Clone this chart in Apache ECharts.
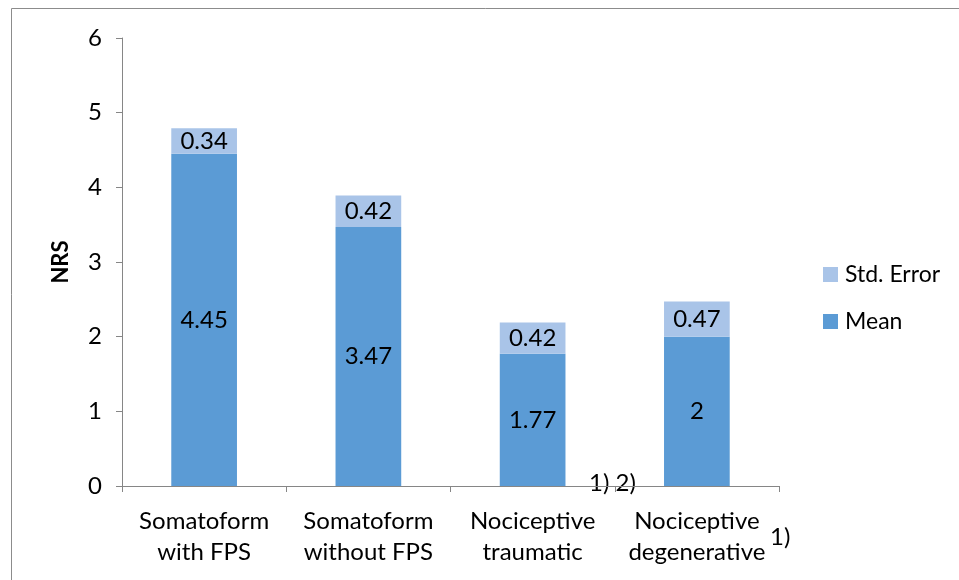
<!DOCTYPE html>
<html>
<head>
<meta charset="utf-8">
<script src="https://cdn.jsdelivr.net/npm/echarts@6/dist/echarts.min.js"></script>
<style>
  html, body { margin: 0; padding: 0; background: #fff; }
  #chart { width: 959px; height: 580px; }
</style>
</head>
<body>
<div id="chart"></div>
<script>
// Pain intensity (NRS) by patient group
const categories = ['Somatoform\nwith FPS', 'Somatoform\nwithout FPS', 'Nociceptive\ntraumatic', 'Nociceptive\ndegenerative'];
const meanValues = [4.45, 3.47, 1.77, 2];
const stdErrorValues = [0.34, 0.42, 0.42, 0.47];
const yTicks = { min: 0, max: 6, interval: 1 };

const FONT = 'Lato, Open Sans, sans-serif';
const chart = echarts.init(document.getElementById('chart'), null, { renderer: 'canvas' });

const labelStyle = {
  show: true,
  position: 'inside',
  color: '#000',
  fontFamily: FONT,
  fontSize: 24,
  formatter: p => String(p.value)
};

chart.setOption({
  animation: false,
  backgroundColor: '#fff',
  grid: { left: 122, right: 180, top: 38, bottom: 94, containLabel: false },
  legend: {
    orient: 'vertical',
    left: 818,
    top: 258,
    itemWidth: 15,
    itemHeight: 15,
    itemGap: 24,
    icon: 'rect',
    data: ['Std. Error', 'Mean'],
    textStyle: { fontFamily: FONT, fontSize: 23, color: '#000', padding: [0, 0, 0, 2] }
  },
  xAxis: {
    type: 'category',
    data: categories,
    axisLine: { lineStyle: { color: '#868686', width: 1 } },
    axisTick: { show: true, length: 6, inside: false, lineStyle: { color: '#868686' } },
    axisLabel: { fontFamily: FONT, fontSize: 24, color: '#000', margin: 20, lineHeight: 31, interval: 0 },
    splitLine: { show: false }
  },
  yAxis: {
    type: 'value',
    min: yTicks.min,
    max: yTicks.max,
    interval: yTicks.interval,
    name: 'NRS',
    nameLocation: 'middle',
    nameGap: 50,
    nameRotate: 90,
    nameTextStyle: { fontFamily: FONT, fontSize: 22, fontWeight: 'bold', color: '#000' },
    axisLine: { show: true, lineStyle: { color: '#868686', width: 1 } },
    axisTick: { show: true, length: 6, lineStyle: { color: '#868686' } },
    axisLabel: { fontFamily: FONT, fontSize: 24, color: '#000', margin: 20 },
    splitLine: { show: false }
  },
  series: [
    {
      name: 'Mean',
      type: 'bar',
      stack: 'nrs',
      barWidth: '40%',
      data: meanValues,
      itemStyle: { color: '#5B9BD5' },
      label: labelStyle
    },
    {
      name: 'Std. Error',
      type: 'bar',
      stack: 'nrs',
      barWidth: '40%',
      data: stdErrorValues,
      itemStyle: { color: '#A9C4E8' },
      label: labelStyle
    }
  ],
  graphic: [
    {
      type: 'rect',
      silent: true,
      shape: { x: 11.5, y: 8.5, width: 960, height: 600 },
      style: { fill: 'none', stroke: '#8c8c8c', lineWidth: 1 }
    },
    {
      type: 'text',
      left: 589,
      top: 471,
      style: { text: '1) 2)', fontFamily: FONT, fontSize: 24, fill: '#000' }
    },
    {
      type: 'text',
      left: 770,
      top: 525,
      style: { text: '1)', fontFamily: FONT, fontSize: 24, fill: '#000' }
    }
  ]
});
</script>
</body>
</html>
